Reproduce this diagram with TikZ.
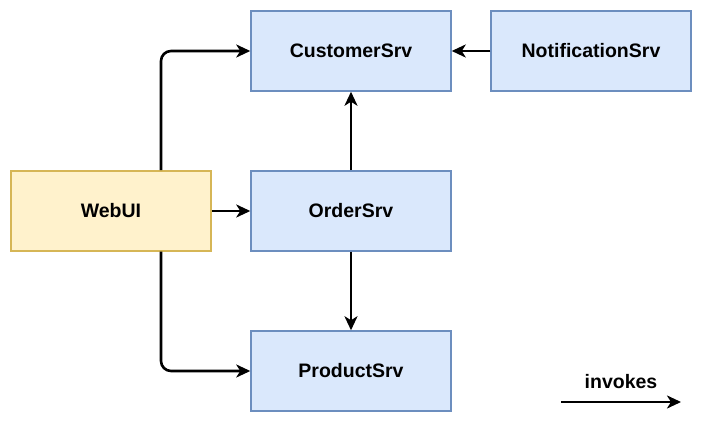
\documentclass[tikz,border=0pt]{standalone}
\usepackage{fontspec}
\setmainfont{Liberation Sans}
\usetikzlibrary{arrows.meta}
\definecolor{bfill}{HTML}{DAE8FC}
\definecolor{bline}{HTML}{6C8EBF}
\definecolor{yfill}{HTML}{FFF2CC}
\definecolor{yline}{HTML}{D6B656}
\tikzset{
  srv/.style={draw=bline, fill=bfill, line width=1.5pt, minimum width=200pt, minimum height=80pt, inner sep=0pt, font=\fontsize{19.5pt}{22pt}\selectfont\bfseries},
  ui/.style={srv, draw=yline, fill=yfill},
  conn/.style={line width=2.6pt, -{Stealth[length=14pt,width=13pt,inset=4pt]}, rounded corners=10pt},
  lbl/.style={font=\fontsize{19.5pt}{22pt}\selectfont\bfseries, inner sep=0pt}
}
\begin{document}
\begin{tikzpicture}[x=1pt,y=-1pt]
\useasboundingbox (0,0) rectangle (702,422);
\node[srv] (cust) at (351,51) {CustomerSrv};
\node[srv] (notif) at (591,51) {NotificationSrv};
\node[ui] (web) at (111,211) {WebUI};
\node[srv] (order) at (351,211) {OrderSrv};
\node[srv] (prod) at (351,371) {ProductSrv};
\coordinate (la) at (561,402);
\coordinate (lb) at (681,402);
\node[lbl] (leg) at (621,382) {invokes};
\draw[conn] ([xshift=50pt]web.north) |- (cust.west);
\draw[conn] ([xshift=50pt]web.south) |- (prod.west);
\draw[conn] (web.east) -- (order.west);
\draw[conn] (order.north) -- (cust.south);
\draw[conn] (order.south) -- (prod.north);
\draw[conn] (notif.west) -- (cust.east);
\draw[conn] (la) -- (lb);
\end{tikzpicture}
\end{document}
